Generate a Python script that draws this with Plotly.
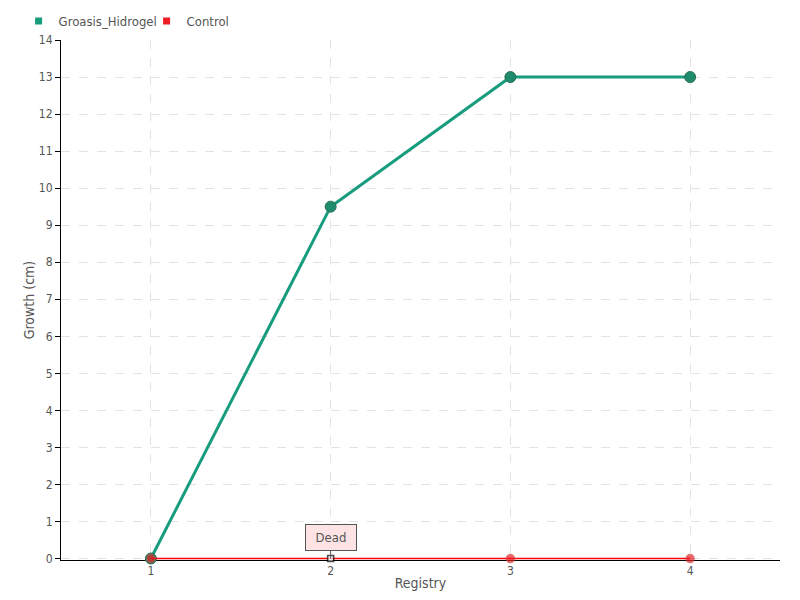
import plotly.graph_objects as go

registry = [1, 2, 3, 4]
groasis_hidrogel = [0, 9.5, 13, 13]
control = [0, 0, 0, 0]
control_status = ["", "Dead", "", ""]
y_ticks = list(range(0, 15))

FONT = "DejaVu Sans Condensed, Roboto, sans-serif"
TXT = "#555555"
GREEN = "#179c7d"
RED = "#ee1d25"

fig = go.Figure()
fig.add_trace(go.Scatter(
    x=registry, y=groasis_hidrogel, name="Groasis_Hidrogel", mode="lines+markers",
    line=dict(color=GREEN, width=3), showlegend=False, cliponaxis=False,
    marker=dict(color="#1e8c6c", size=11, line=dict(color="#2a6e55", width=1)),
))
sym = ["square" if s == "Dead" else "circle" for s in control_status]
mcol = ["white" if s == "Dead" else RED for s in control_status]
mline = ["black" if s == "Dead" else "#d04040" for s in control_status]
msize = [8, 6, 8, 8]
fig.add_trace(go.Scatter(
    x=registry, y=control, name="Control", mode="lines+markers",
    line=dict(color="#ff0000", width=1.5), showlegend=False, cliponaxis=False,
    marker=dict(color=mcol, symbol=sym, size=msize, line=dict(color=mline, width=1.5)),
))
# legend entries with square symbols
for name, col in [("Groasis_Hidrogel", GREEN), ("Control", RED)]:
    fig.add_trace(go.Scatter(x=[None], y=[None], name=name, mode="markers",
                             marker=dict(color=col, symbol="square", size=7)))
for x, y, s in zip(registry, control, control_status):
    if s:
        fig.add_annotation(x=x, y=y, text=s, showarrow=True, arrowhead=0, arrowwidth=1,
                           arrowcolor="#555555", ax=0, ay=-21, width=48, height=23,
                           bgcolor="#fde3e3", bordercolor="#555555", borderwidth=1, borderpad=1,
                           font=dict(family=FONT, size=13, color=TXT))

fig.update_layout(
    width=800, height=600,
    margin=dict(l=61, r=20, t=40, b=40, autoexpand=False),
    paper_bgcolor="white", plot_bgcolor="white",
    font=dict(family=FONT, size=13, color=TXT),
    showlegend=True,
    legend=dict(orientation="h", x=-0.059, xref="paper", y=0.99, yref="container", yanchor="top",
                xanchor="left", font=dict(size=13), itemwidth=30, traceorder="normal",
                entrywidth=83, entrywidthmode="pixels",
                tracegroupgap=0, bgcolor="rgba(0,0,0,0)"),
    xaxis=dict(range=[0.5, 4.5], tickvals=registry, ticktext=[str(r) for r in registry],
               showline=True, linecolor="black", linewidth=1, automargin=False,
               layer="below traces",
               showgrid=True, gridcolor="#e3e3e3", griddash="dash", zeroline=False,
               ticks="", title=dict(text="Registry", standoff=0, font=dict(size=14)),
               tickfont=dict(size=12)),
    yaxis=dict(range=[-0.04, 14], tickvals=y_ticks, showline=True, linecolor="black", linewidth=1,
               showgrid=True, gridcolor="#e3e3e3", griddash="dash", zeroline=False,
               ticks="outside", ticklen=5, tickcolor="black", automargin=False,
               layer="below traces",
               title=dict(text="Growth (cm)", standoff=0, font=dict(size=14)),
               tickfont=dict(size=12)),
)
fig.write_html("out.html", config={"displayModeBar": False},
               post_script="document.body.style.margin='0px';")
